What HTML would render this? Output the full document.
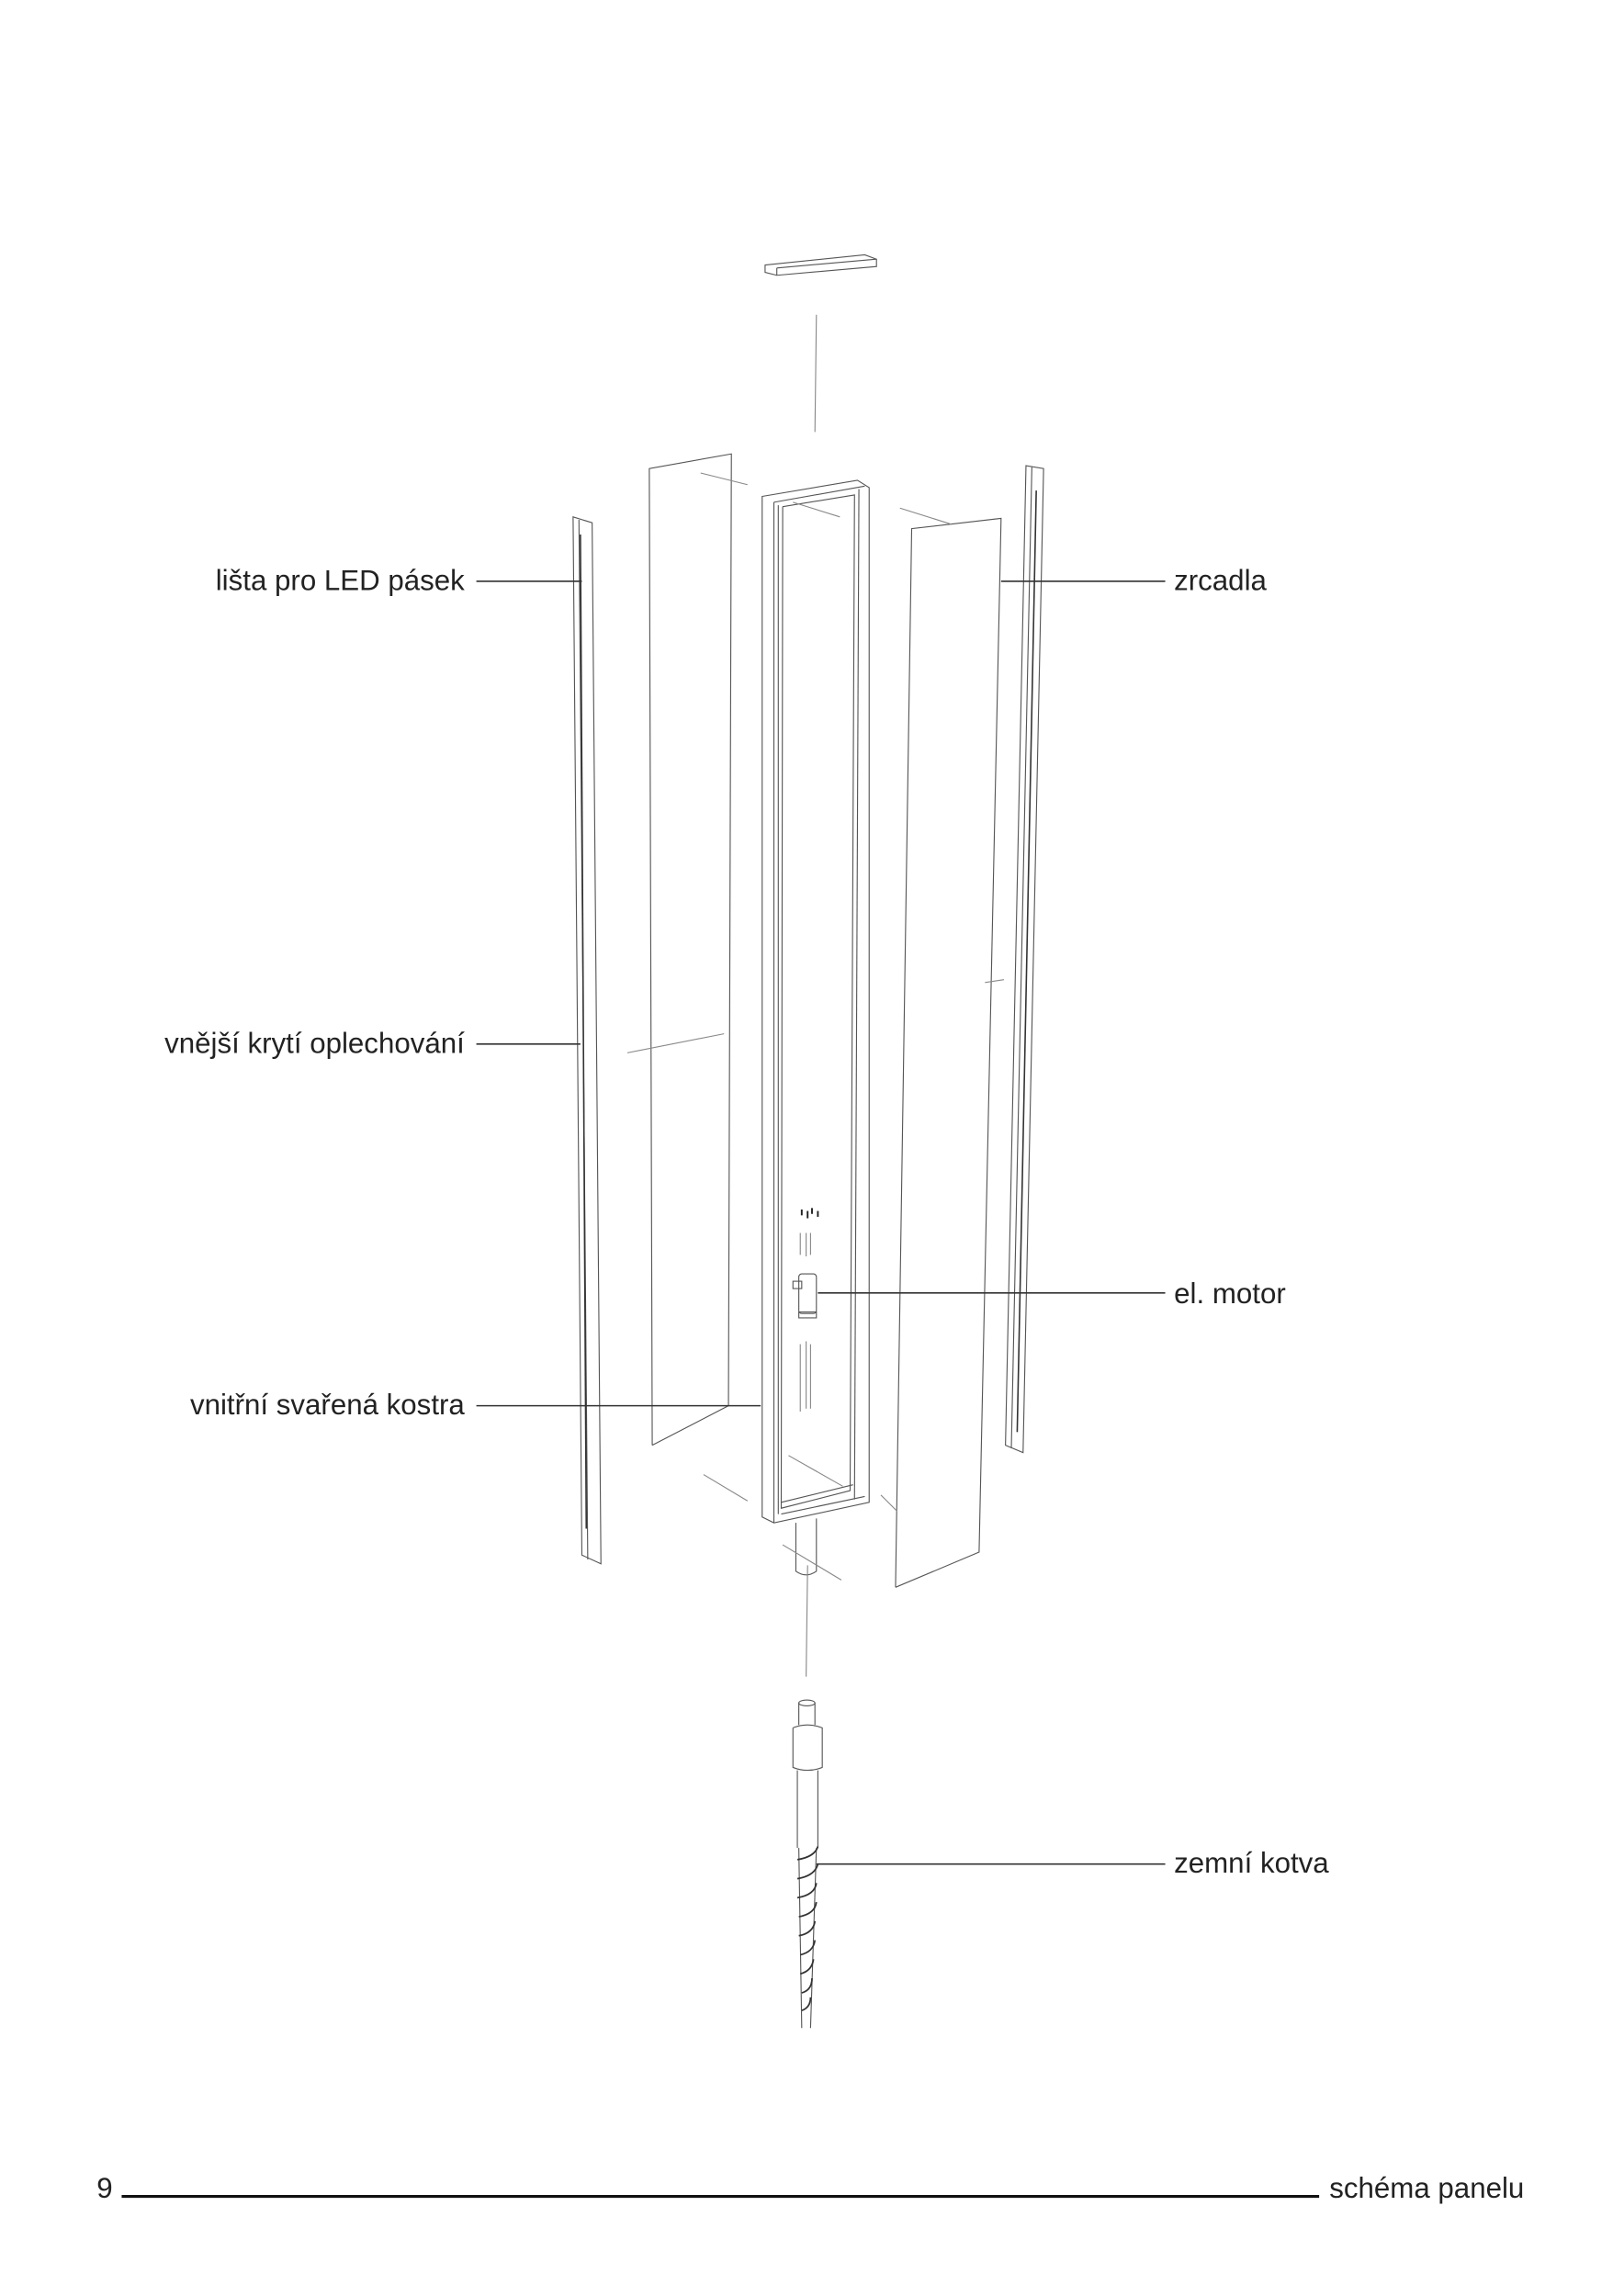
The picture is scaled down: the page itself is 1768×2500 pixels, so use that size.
<!DOCTYPE html>
<html><head><meta charset="utf-8"><style>
html,body{margin:0;padding:0;background:#fff;}
svg{display:block;}
text{font-family:"Liberation Sans",sans-serif;font-size:19.6px;fill:#222;}
</style></head><body>
<svg width="1768" height="2500" viewBox="0 0 1108 1568" preserveAspectRatio="none" xmlns="http://www.w3.org/2000/svg">
<g fill="none" stroke="#555" stroke-width="0.7">
<!-- top cap -->
<polygon points="522,181 590,174 598,177 598,182 530,188 522,186"/>
<line x1="530" y1="183" x2="598" y2="177"/><line x1="530" y1="183" x2="530" y2="188"/>
<line x1="557" y1="215" x2="556" y2="295" stroke="#888"/>
<!-- left strip -->
<polygon points="391,353 404,357 410,1068 397,1062"/>
<line x1="395" y1="355" x2="401" y2="1065"/>
<line x1="396" y1="365" x2="400" y2="1044" stroke="#333" stroke-width="1"/>
<!-- left mirror -->
<polyline points="445,987 443,320 499,310 497,960 445,987"/>
<!-- frame -->
<polygon points="520,339 585,328 593,333 593,1026 528,1040 520,1036"/>
<polyline points="528,343 590,332"/>
<line x1="528" y1="343" x2="528" y2="1040"/>
<polyline points="534,346 583,338 580,1018 533,1030 534,346"/>
<line x1="531" y1="345" x2="531" y2="1034"/>
<line x1="586" y1="334" x2="583" y2="1024"/>
<line x1="533" y1="1026" x2="582" y2="1014"/>
<line x1="533" y1="1034" x2="590" y2="1022"/>
<!-- post -->
<path d="M543,1040 L543,1073 Q550,1078 557,1073 L557,1037"/>
<!-- right mirror -->
<polyline points="611,1084 622,361 683,354 668,1060 611,1084"/>
<!-- right strip -->
<polygon points="700,318 712,320 698,992 686,987"/>
<line x1="704" y1="319" x2="690" y2="989"/>
<line x1="707" y1="335" x2="694" y2="978" stroke="#333" stroke-width="1"/>
<!-- dashed guides -->
<g stroke="#888">
<line x1="478" y1="323" x2="510" y2="331"/>
<line x1="541" y1="343" x2="573" y2="353"/>
<line x1="614" y1="347" x2="649" y2="358"/>
<line x1="428" y1="719" x2="494" y2="706"/>
<line x1="672" y1="671" x2="685" y2="669"/>
<line x1="480" y1="1007" x2="510" y2="1025"/>
<line x1="538" y1="994" x2="575" y2="1015"/>
<line x1="601" y1="1021" x2="612" y2="1032"/>
<line x1="534" y1="1055" x2="574" y2="1079"/>
<line x1="551" y1="1069" x2="550" y2="1145"/>
<line x1="546" y1="842" x2="546" y2="857"/><line x1="550" y1="842" x2="550" y2="858"/><line x1="553" y1="842" x2="553" y2="857"/>
<line x1="546" y1="918" x2="546" y2="964"/><line x1="550" y1="916" x2="550" y2="962"/><line x1="553" y1="918" x2="553" y2="962"/>
</g>
<!-- screws -->
<g stroke="#222" stroke-width="1.2">
<line x1="547" y1="826" x2="547" y2="830"/><line x1="551" y1="827" x2="551" y2="832"/><line x1="554" y1="825" x2="554" y2="829"/><line x1="558" y1="827" x2="558" y2="831"/>
</g>
<!-- motor -->
<rect x="545" y="870" width="12" height="27" rx="2"/>
<rect x="541" y="875" width="6" height="5"/>
<rect x="545" y="896" width="12" height="4"/>
<!-- anchor -->
<path d="M545,1163 L545,1178 M556,1163 L556,1178"/><ellipse cx="550.5" cy="1163" rx="5.5" ry="2"/>
<path d="M541,1180 L541,1207 Q551,1211 561,1207 L561,1180 Q551,1176 541,1180"/>
<line x1="544" y1="1209" x2="544" y2="1262"/><line x1="558" y1="1209" x2="558" y2="1262"/>
<line x1="545" y1="1262" x2="547" y2="1385"/><line x1="557" y1="1262" x2="553" y2="1385"/>
<g stroke="#333" stroke-width="1.1">
<path d="M544,1270 Q556,1268 558,1261"/><path d="M544,1283 Q556,1281 558,1273"/><path d="M544,1296 Q556,1294 557,1286"/><path d="M545,1309 Q556,1307 557,1299"/><path d="M545,1322 Q555,1320 556,1312"/><path d="M546,1335 Q555,1333 556,1325"/><path d="M546,1348 Q554,1346 555,1338"/><path d="M547,1361 Q554,1359 554,1351"/><path d="M547,1373 Q553,1371 553,1364"/>
</g>
</g>
<!-- label lines -->
<g stroke="#333" stroke-width="1">
<line x1="325" y1="397" x2="397" y2="397"/>
<line x1="325" y1="713" x2="396" y2="713"/>
<line x1="325" y1="960" x2="519" y2="960"/>
<line x1="683" y1="397" x2="795" y2="397"/>
<line x1="558" y1="883" x2="795" y2="883"/>
<line x1="557" y1="1273" x2="795" y2="1273"/>
</g>
<text x="317" y="403" text-anchor="end">lišta pro LED pásek</text>
<text x="317" y="719" text-anchor="end">vnější krytí oplechování</text>
<text x="317" y="966" text-anchor="end">vnitřní svařená kostra</text>
<text x="801" y="403">zrcadla</text>
<text x="801" y="890">el. motor</text>
<text x="801" y="1279">zemní kotva</text>
<line x1="83" y1="1500" x2="900" y2="1500" stroke="#111" stroke-width="2"/>
<text x="66" y="1501">9</text>
<text x="907" y="1501">schéma panelu</text>
</svg>
</body></html>
